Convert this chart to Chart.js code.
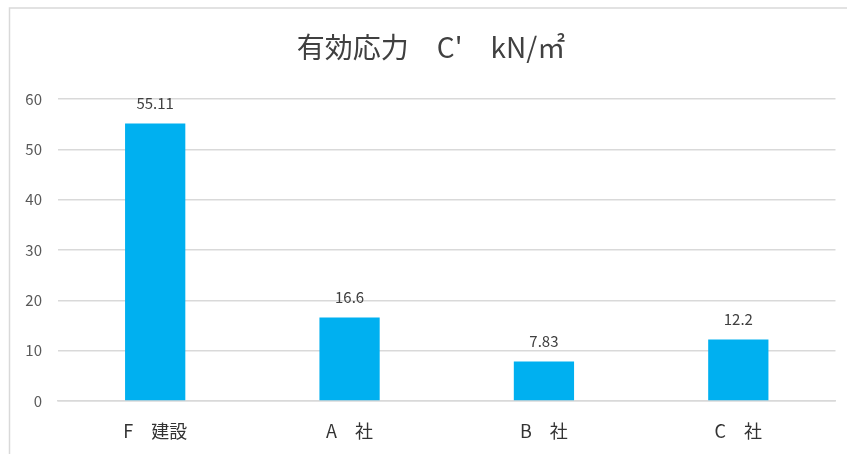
<!DOCTYPE html>
<html>
<head>
<meta charset="utf-8">
<script src="https://cdn.jsdelivr.net/npm/chart.js@4"></script>
<style>
  html, body { margin: 0; padding: 0; background: #fff; }
  #wrap { width: 847px; height: 454px; }
</style>
</head>
<body>
<div id="wrap"><canvas id="c" width="847" height="454"></canvas></div>
<script>
const chartTitle = "有効応力　C'　kN/㎡";
const categories = ["F　建設", "A　社", "B　社", "C　社"];
const values = [55.11, 16.6, 7.83, 12.2];
const valueLabels = ["55.11", "16.6", "7.83", "12.2"];
const yTicks = [0, 10, 20, 30, 40, 50, 60];

const FONT = "'Noto Sans CJK JP', 'Noto Sans', sans-serif";

// Frame lines along the left and top edges, plus the chart title
const framePlugin = {
  id: 'frame',
  beforeDraw(chart) {
    const ctx = chart.ctx;
    ctx.save();
    ctx.strokeStyle = '#d9d9d9';
    ctx.lineWidth = 1.5;
    ctx.beginPath();
    ctx.moveTo(9.5, 454);
    ctx.lineTo(9.5, 8);
    ctx.lineTo(847, 8);
    ctx.stroke();
    ctx.fillStyle = '#404040';
    ctx.font = '28px ' + FONT;
    ctx.textAlign = 'center';
    ctx.textBaseline = 'middle';
    ctx.fillText(chartTitle, 431, 47);
    ctx.restore();
  }
};

// Value labels above each bar
const valueLabelPlugin = {
  id: 'valueLabels',
  afterDatasetsDraw(chart) {
    const ctx = chart.ctx;
    const meta = chart.getDatasetMeta(0);
    ctx.save();
    ctx.fillStyle = '#404040';
    ctx.font = '15px ' + FONT;
    ctx.textAlign = 'center';
    ctx.textBaseline = 'middle';
    meta.data.forEach((bar, i) => {
      ctx.fillText(valueLabels[i], bar.x, bar.y - 20);
    });
    ctx.restore();
  }
};

new Chart(document.getElementById('c'), {
  type: 'bar',
  data: {
    labels: categories,
    datasets: [{
      data: values,
      backgroundColor: '#00b0f0',
      borderWidth: 0,
      categoryPercentage: 1,
      barPercentage: 0.31
    }]
  },
  options: {
    responsive: false,
    animation: false,
    devicePixelRatio: 1,
    layout: { padding: { top: 99, left: 0, right: 11.5, bottom: 0 } },
    plugins: {
      legend: { display: false },
      title: { display: false },
      tooltip: { enabled: false }
    },
    scales: {
      x: {
        grid: { display: false, drawTicks: false },
        border: { display: true, color: '#d9d9d9', width: 1.5 },
        ticks: {
          color: '#333333',
          font: { family: FONT, size: 18 },
          padding: 19,
          maxRotation: 0
        },
        afterFit(scale) { scale.height = 53; }
      },
      y: {
        min: 0,
        max: 60,
        afterBuildTicks(scale) { scale.ticks = yTicks.map(v => ({ value: v })); },
        grid: { color: '#d9d9d9', lineWidth: 1.5, drawTicks: false },
        border: { display: false },
        ticks: {
          color: '#595959',
          font: { family: FONT, size: 15 },
          padding: 16
        },
        afterFit(scale) { scale.width = 58; }
      }
    }
  },
  plugins: [framePlugin, valueLabelPlugin]
});
</script>
</body>
</html>
